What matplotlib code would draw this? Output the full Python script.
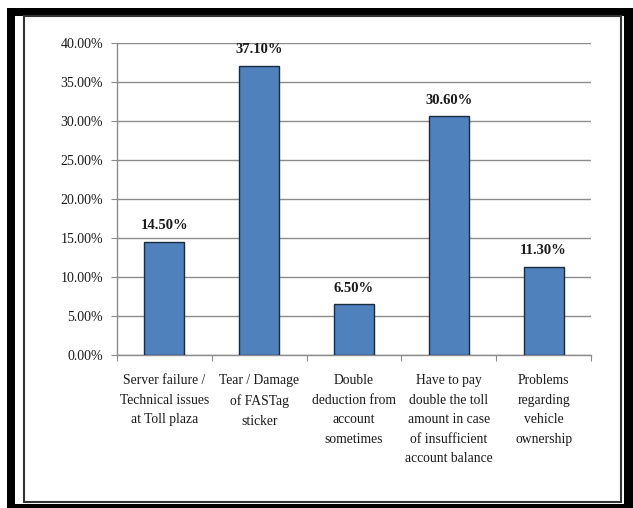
import matplotlib.pyplot as plt
from matplotlib.patches import Rectangle
from matplotlib.ticker import FixedLocator, FuncFormatter

plt.rcParams['font.family'] = ['Liberation Serif', 'DejaVu Serif']

categories = ["Server failure /\nTechnical issues\nat Toll plaza",
              "Tear / Damage\nof FASTag\nsticker",
              "Double\ndeduction from\naccount\nsometimes",
              "Have to pay\ndouble the toll\namount in case\nof insufficient\naccount balance",
              "Problems\nregarding\nvehicle\nownership"]
values = [14.5, 37.1, 6.5, 30.6, 11.3]
yticks = [0, 5, 10, 15, 20, 25, 30, 35, 40]

W, H = 633, 508
fig = plt.figure(figsize=(W / 100, H / 100), dpi=100)

def px_rect(x0, y0, x1, y1, **kw):
    # rectangle in figure pixel coords (origin top-left)
    r = Rectangle((x0 / W, 1 - y1 / H), (x1 - x0) / W, (y1 - y0) / H,
                  transform=fig.transFigure, **kw)
    fig.patches.append(r)

# thick outer frame + thin inner frame
px_rect(7, 8, 15, 508, color='black', lw=0)
px_rect(7, 8, 633, 16, color='black', lw=0)
px_rect(624, 8, 633, 508, color='black', lw=0)
px_rect(15, 504, 633, 508, color='black', lw=0)
px_rect(24, 16, 621, 502, fill=False, edgecolor='#333333', lw=1.5)

ax = fig.add_axes([117 / W, 1 - 355 / H, (591 - 117) / W, (355 - 43) / H])
x = list(range(len(values)))
bars = ax.bar(x, values, width=0.42, color='#4F81BD', edgecolor='#1c2a3d', linewidth=1, zorder=3)

for xi, v in zip(x, values):
    ax.annotate(f"{v:.2f}%", (xi, v), xytext=(0, 9), textcoords='offset points',
                ha='center', va='baseline', fontsize=10.5, fontweight='bold', color='#1a1a1a')

ax.set_xlim(-0.5, len(values) - 0.5)
ax.set_ylim(0, 40)
ax.yaxis.set_major_locator(FixedLocator(yticks))
ax.yaxis.set_major_formatter(FuncFormatter(lambda v, p: f"{v:.2f}%"))
ax.grid(axis='y', color='#8c8c8c', linewidth=1, zorder=0)

ax.set_xticks([i - 0.5 for i in range(len(values) + 1)])
ax.set_xticklabels([])
ax.set_xticks(x, minor=True)
ax.set_xticklabels(categories, minor=True, fontsize=9.8, linespacing=1.65, color='#1a1a1a')
ax.tick_params(axis='x', which='major', length=4, color='#8c8c8c', direction='out')
ax.tick_params(axis='x', which='minor', length=0, pad=14)
ax.tick_params(axis='y', length=4, color='#8c8c8c', pad=6, labelsize=10, labelcolor='#1a1a1a')

for s in ['top', 'right']:
    ax.spines[s].set_visible(False)
for s in ['left', 'bottom']:
    ax.spines[s].set_color('#8c8c8c')
    ax.spines[s].set_linewidth(1)

fig.savefig('out.png', dpi=100)
